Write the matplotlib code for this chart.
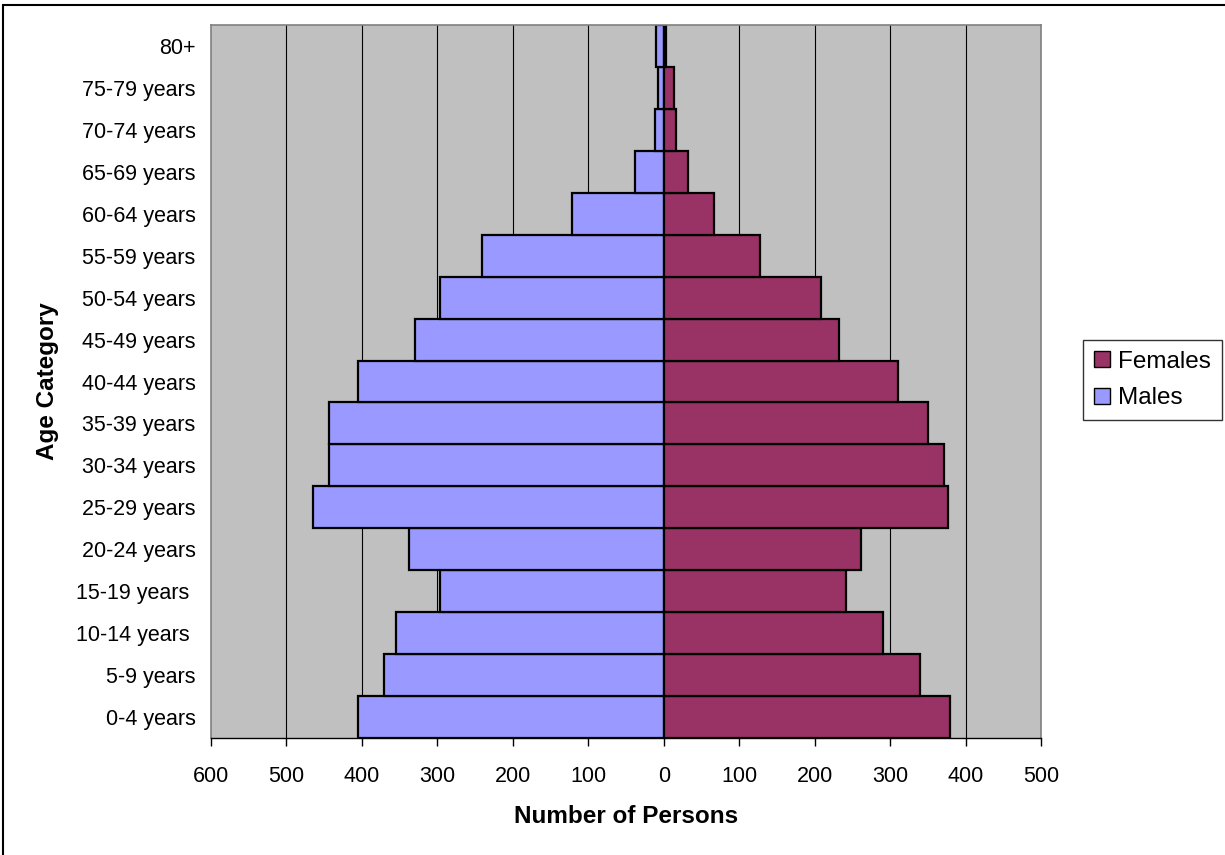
import numpy as np
import matplotlib
matplotlib.use('Agg')
import matplotlib.pyplot as plt
from matplotlib.patches import Rectangle, Patch

plt.rcParams['font.family'] = ['Liberation Sans', 'DejaVu Sans']

# Данные: возрастные группы снизу вверх
ages = ['0-4 years', '5-9 years', '10-14 years ', '15-19 years ', '20-24 years',
        '25-29 years', '30-34 years', '35-39 years', '40-44 years', '45-49 years',
        '50-54 years', '55-59 years', '60-64 years', '65-69 years', '70-74 years',
        '75-79 years', '80+']
males = [405, 371, 355, 296, 338, 465, 444, 444, 405, 330, 296, 241, 122, 38, 12, 7, 10]
females = [379, 340, 291, 242, 262, 377, 371, 350, 310, 232, 209, 128, 66, 32, 16, 13, 3]
xticks = [-600, -500, -400, -300, -200, -100, 0, 100, 200, 300, 400, 500]

male_color = '#9999FF'
female_color = '#993366'

fig = plt.figure(figsize=(12.25, 8.55), dpi=100)
ax = fig.add_axes([211 / 1225, 1 - 738 / 855, (1041 - 211) / 1225, (738 - 25) / 855])
ax.set_facecolor('#C0C0C0')

y = np.arange(len(ages))
for xv in xticks[1:-1]:
    ax.axvline(xv, color='black', lw=0.8, zorder=1)

ax.barh(y, -np.array(males), height=1.0, color=male_color, edgecolor='black',
        linewidth=1.6, zorder=2)
ax.barh(y, females, height=1.0, color=female_color, edgecolor='black',
        linewidth=1.6, zorder=2)

ax.set_xlim(-600, 500)
ax.set_ylim(-0.5, len(ages) - 0.5)
ax.set_xticks(xticks)
ax.set_xticklabels([str(abs(v)) for v in xticks], fontsize=15.5)
ax.set_yticks(y)
ax.set_yticklabels(ages, fontsize=15.5)
ax.tick_params(axis='y', length=0, pad=11)
ax.tick_params(axis='x', direction='out', length=6, width=1, pad=14, color='black')

for side in ['top', 'left', 'right']:
    ax.spines[side].set_color('#808080')
    ax.spines[side].set_linewidth(1.2)
ax.spines['bottom'].set_color('black')
ax.spines['bottom'].set_linewidth(1)

ax.set_xlabel('Number of Persons', fontsize=17.5, fontweight='bold', labelpad=13)
ax.set_ylabel('Age Category', fontsize=17.5, fontweight='bold', labelpad=12)

handles = [Patch(facecolor=female_color, edgecolor='black', label='Females'),
           Patch(facecolor=male_color, edgecolor='black', label='Males')]
leg = fig.legend(handles=handles, loc='center left',
                 bbox_to_anchor=(1083 / 1225, 1 - 380 / 855), fontsize=17.5,
                 frameon=True, fancybox=False, edgecolor='black',
                 handlelength=0.65, handleheight=0.65, handletextpad=0.35,
                 borderpad=0.45, labelspacing=0.6, borderaxespad=0)
leg.get_frame().set_linewidth(1)

# рамка вокруг всей диаграммы (видны только левая и верхняя стороны)
fig.patches.append(Rectangle((3 / 1225, -0.1), 1.2, 0.1 + 850 / 855, fill=False,
                             edgecolor='black', linewidth=1.5,
                             transform=fig.transFigure, figure=fig))

plt.savefig('out.png', dpi=100)
